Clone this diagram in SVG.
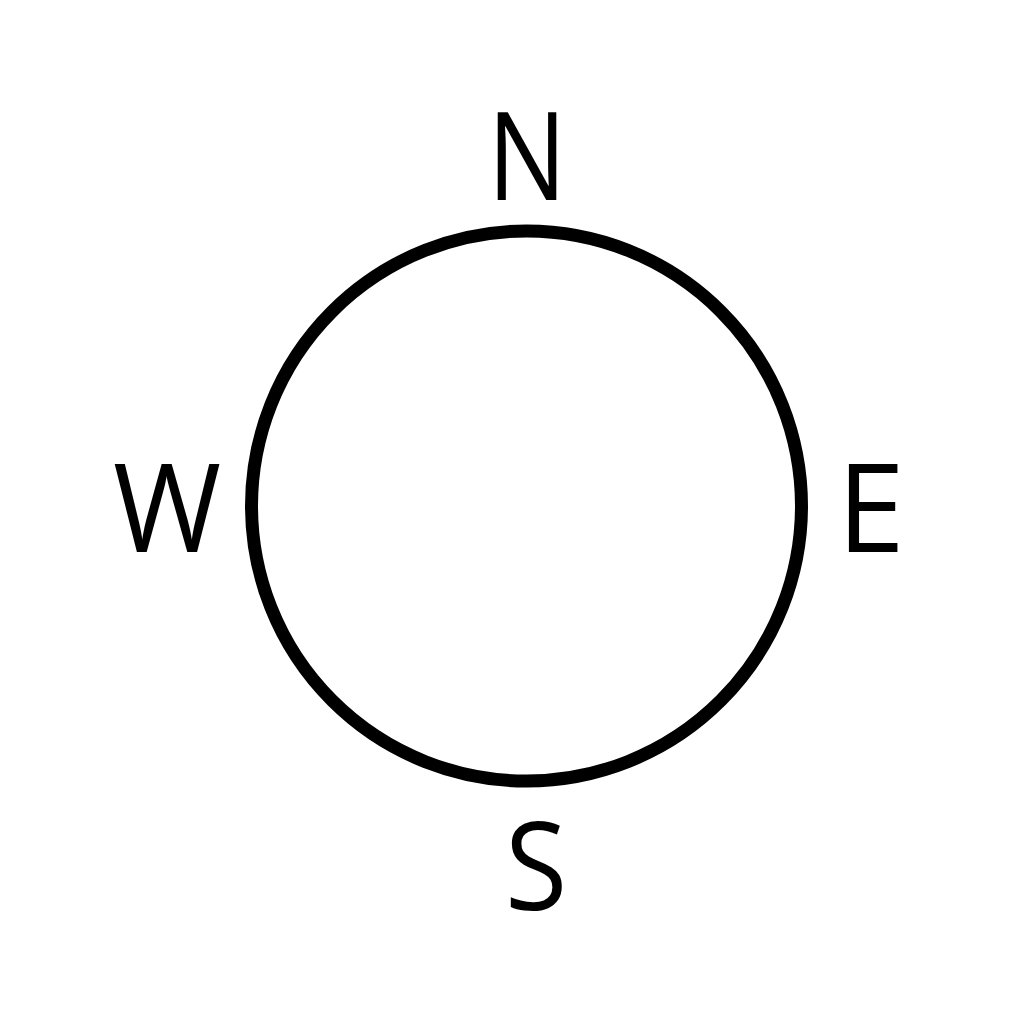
<svg xmlns="http://www.w3.org/2000/svg" width="1024" height="1024" viewBox="0 0 1024 1024">
<style>
.lbl{font-family:"Open Sans","Liberation Sans",sans-serif;font-size:122px;fill:#000;text-anchor:middle}
</style>
<rect width="1024" height="1024" fill="#fff"/>
<g id="compass">
<circle cx="526.5" cy="506" r="275" fill="none" stroke="#000" stroke-width="13"/>
</g>
<g id="label-N"><text class="lbl" transform="translate(527,200) scale(0.86,1)">N</text></g>
<g id="label-W"><text class="lbl" transform="translate(167,552) scale(0.96,1)">W</text></g>
<g id="label-E"><text class="lbl" x="871" y="552">E</text></g>
<g id="label-S"><text class="lbl" transform="translate(536,910) scale(0.93,1)">S</text></g>
</svg>
